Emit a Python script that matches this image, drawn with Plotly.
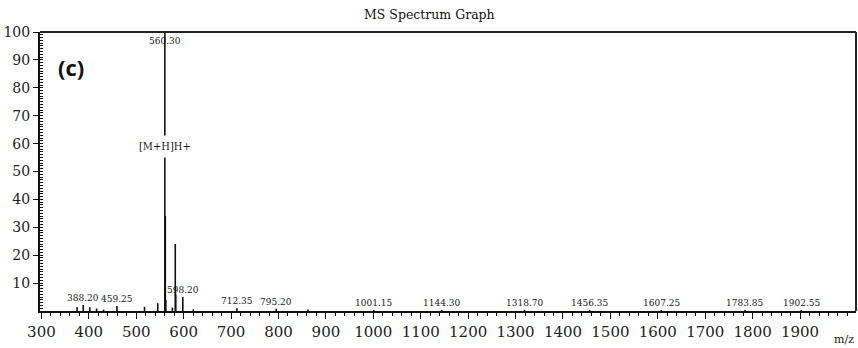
import plotly.graph_objects as go

# Stick spectrum: m/z and relative intensity (%)
mz = [375.2, 388.20, 402.1, 416.3, 431.0, 459.25, 517.4, 545.3,
      560.30, 561.30, 562.30, 576.2, 582.30, 583.30, 598.20, 620.2,
      712.35, 795.20, 862.0, 1001.15, 1144.30, 1318.70, 1456.35,
      1607.25, 1783.85, 1902.55]
intensity = [1.4, 2.2, 1.3, 0.9, 0.5, 1.8, 1.5, 2.8,
             100.0, 34.0, 4.0, 1.2, 24.0, 6.0, 5.0, 0.6,
             1.0, 0.8, 0.5, 0.4, 0.4, 0.4, 0.4,
             0.4, 0.4, 0.4]

# Peaks carrying an m/z label
labelled_mz = [388.20, 459.25, 598.20, 712.35, 795.20, 1001.15, 1144.30,
               1318.70, 1456.35, 1607.25, 1783.85, 1902.55]
labelled_int = [2.2, 1.8, 5.0, 1.0, 0.8, 0.4, 0.4, 0.4, 0.4, 0.4, 0.4, 0.4]
labelled_txt = ["388.20", "459.25", "598.20", "712.35", "795.20", "1001.15",
                "1144.30", "1318.70", "1456.35", "1607.25", "1783.85", "1902.55"]

base_peak_mz = 560.30
base_peak_txt = "560.30"
ion_txt = "[M+H]H+"

x_ticks = list(range(300, 2000, 100))
y_ticks = list(range(10, 101, 10))

# Build stick segments
xs, ys = [], []
for m, h in zip(mz, intensity):
    xs += [m, m, None]
    ys += [0, h, None]

fig = go.Figure()
fig.add_trace(go.Scatter(x=xs, y=ys, mode="lines",
                         line=dict(color="#111111", width=1.6),
                         hoverinfo="skip", showlegend=False))

lab_font = dict(family="DejaVu Serif Condensed, DejaVu Serif", size=10, color="#1a1a1a")
annotations = []
for m, h, t in zip(labelled_mz, labelled_int, labelled_txt):
    annotations.append(dict(x=m, y=h, text=t, showarrow=False, xanchor="center",
                            yanchor="bottom", yshift=0, font=lab_font))
annotations.append(dict(x=base_peak_mz, y=100, text=base_peak_txt, showarrow=False,
                        xanchor="center", yanchor="top", yshift=-1, font=lab_font))
annotations.append(dict(x=base_peak_mz, y=59, text=ion_txt, showarrow=False,
                        xanchor="center", yanchor="middle", bgcolor="white",
                        borderpad=4,
                        font=dict(family="DejaVu Serif Condensed, DejaVu Serif",
                                  size=11, color="#1a1a1a")))
annotations.append(dict(x=0.477, y=1, xref="paper", yref="paper", text="MS Spectrum Graph",
                        showarrow=False, xanchor="center", yanchor="bottom", yshift=8,
                        font=dict(family="DejaVu Serif", size=12.5, color="#111111")))
annotations.append(dict(x=0.02, y=0.875, xref="paper", yref="paper", text="<b>(c)</b>",
                        showarrow=False, xanchor="left", yanchor="middle",
                        font=dict(family="Open Sans", size=22, color="#111111")))
annotations.append(dict(x=1, y=0, xref="paper", yref="paper", text="m/z",
                        showarrow=False, xanchor="right", yanchor="top", yshift=-20,
                        font=dict(family="DejaVu Serif", size=11, color="#222222")))

fig.update_layout(
    width=858, height=348,
    margin=dict(l=40, r=2, t=32, b=37),
    paper_bgcolor="white", plot_bgcolor="white",
    annotations=annotations,
    xaxis=dict(range=[297, 2018], tickvals=x_ticks, ticktext=[str(v) for v in x_ticks],
               showgrid=False, zeroline=False, showline=True, linecolor="#111111",
               linewidth=1.5, mirror=False, ticks="outside", ticklen=6,
               tickcolor="#111111", tickwidth=1.3,
               tickfont=dict(family="DejaVu Serif", size=15, color="#222222"),
               minor=dict(dtick=20, tick0=300, ticks="outside", ticklen=3,
                          tickcolor="#111111", tickwidth=1)),
    yaxis=dict(range=[0, 100], tickvals=y_ticks, ticktext=[str(v) for v in y_ticks],
               showgrid=False, zeroline=False, showline=True, linecolor="#111111",
               linewidth=2, mirror=False, ticks="outside", ticklen=5,
               tickcolor="#111111", tickwidth=1.3,
               tickfont=dict(family="DejaVu Serif", size=14, color="#222222"),
               minor=dict(dtick=1, tick0=0, ticks="inside", ticklen=3,
                          tickcolor="#111111", tickwidth=1)),
)

# Frame along the top and right edges
fig.add_shape(type="line", xref="paper", yref="paper", x0=0, x1=1, y0=1, y1=1,
              line=dict(color="#222222", width=2))
fig.add_shape(type="line", xref="paper", yref="paper", x0=1, x1=1, y0=0, y1=1,
              line=dict(color="#222222", width=2))

fig.write_html("out.html")
